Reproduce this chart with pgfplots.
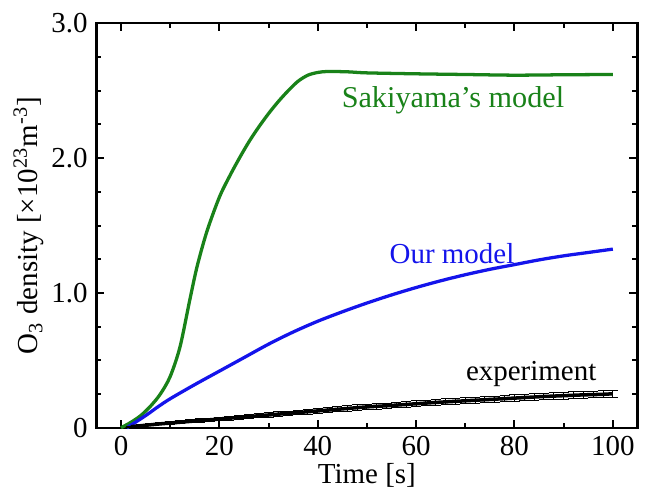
\documentclass[border=2pt]{standalone}
\usepackage{pgfplots}
\pgfplotsset{compat=1.18}
\usepackage{fontspec}
\setmainfont{Liberation Serif}
\definecolor{sakigreen}{RGB}{25,130,25}
\definecolor{ourblue}{RGB}{20,20,235}

\begin{document}
\begin{tikzpicture}
\begin{axis}[
    scale only axis,
    width=214bp, height=160bp,
    xmin=-5, xmax=105,
    ymin=0, ymax=3.0,
    xtick={0,20,...,100},
    minor xtick={10,30,...,90},
    ytick={0,1,2,3},
    yticklabels={0,1.0,2.0,3.0},
    minor y tick num=3,
    tick align=inside,
    major tick length=3.2bp,
    minor tick length=2bp,
    axis line style={line width=0.9pt},
    every tick/.style={black, line width=0.8pt},
    tick label style={font=\fontsize{11.5}{13}\selectfont},
    /pgf/number format/assume math mode=true,
    label style={font=\fontsize{11.5}{13}\selectfont},
    xlabel={Time [s]},
    ylabel={O\textsubscript{3} density [\texttimes10\textsuperscript{23}m\textsuperscript{-3}]},
    xlabel style={yshift=4pt},
    ylabel style={yshift=-4pt},
    clip=false,
]
% Sakiyama's model
\addplot[sakigreen, line width=1.3pt, smooth, tension=0.5] coordinates {
 (0,0) (2,0.04) (4,0.09) (6,0.16) (8,0.25) (10,0.38) (12,0.6) (14,0.95)
 (15.5,1.2) (17.5,1.46) (20,1.71) (22,1.86) (24,1.995) (26,2.12) (28,2.23)
 (30,2.33) (32,2.42) (34,2.50) (36,2.57) (38,2.615) (40,2.635) (42,2.642)
 (46,2.64) (50,2.632) (60,2.625) (70,2.62) (80,2.615) (90,2.618) (100,2.62)
};
% Our model
\addplot[ourblue, line width=1.3pt, smooth, tension=0.5] coordinates {
 (1.2,0) (5,0.09) (7.5,0.155) (10,0.215) (15,0.32) (20,0.42) (25,0.52)
 (30,0.62) (35,0.71) (40,0.79) (45,0.86) (50,0.925) (55,0.985) (60,1.04)
 (65,1.09) (70,1.135) (75,1.175) (80,1.21) (85,1.245) (90,1.275) (95,1.30)
 (100,1.325)
};
% experiment
\addplot[black, line width=1.4pt, mark=none,
  error bars/.cd, y dir=both, y explicit,
  error bar style={line width=0.4pt}, error mark=-] coordinates {
 (2,0.008) +- (0,0.005) (4,0.015) +- (0,0.006) (6,0.022) +- (0,0.007)
 (8,0.029) +- (0,0.008) (10,0.035) +- (0,0.009) (12,0.041) +- (0,0.01)
 (14,0.047) +- (0,0.011) (16,0.053) +- (0,0.012) (18,0.059) +- (0,0.013)
 (20,0.065) +- (0,0.014) (22,0.071) +- (0,0.014) (24,0.077) +- (0,0.015)
 (26,0.083) +- (0,0.015) (28,0.089) +- (0,0.016) (30,0.095) +- (0,0.016)
 (32,0.101) +- (0,0.017) (34,0.107) +- (0,0.017) (36,0.113) +- (0,0.018)
 (38,0.119) +- (0,0.018) (40,0.125) +- (0,0.018) (42,0.131) +- (0,0.019)
 (44,0.137) +- (0,0.019) (46,0.143) +- (0,0.019) (48,0.149) +- (0,0.02)
 (50,0.155) +- (0,0.02) (52,0.159) +- (0,0.02) (54,0.163) +- (0,0.02)
 (56,0.168) +- (0,0.021) (58,0.173) +- (0,0.021) (60,0.178) +- (0,0.021)
 (62,0.183) +- (0,0.021) (64,0.188) +- (0,0.022) (66,0.192) +- (0,0.022)
 (68,0.196) +- (0,0.022) (70,0.2) +- (0,0.022) (72,0.204) +- (0,0.023)
 (74,0.208) +- (0,0.023) (76,0.212) +- (0,0.023) (78,0.216) +- (0,0.023)
 (80,0.22) +- (0,0.024) (82,0.224) +- (0,0.024) (84,0.228) +- (0,0.024)
 (86,0.232) +- (0,0.024) (88,0.235) +- (0,0.025) (90,0.238) +- (0,0.025)
 (92,0.241) +- (0,0.025) (94,0.244) +- (0,0.025) (96,0.246) +- (0,0.025)
 (98,0.248) +- (0,0.026) (100,0.252) +- (0,0.026)
};
\node[sakigreen, font=\fontsize{12}{13}\selectfont] at (axis cs:67.5,2.43) {Sakiyama’s model};
\node[ourblue, font=\fontsize{11.5}{13}\selectfont] at (axis cs:67.3,1.29) {Our model};
\node[black, font=\fontsize{11.5}{13}\selectfont] at (axis cs:83.4,0.40) {experiment};
\end{axis}
\end{tikzpicture}
\end{document}
